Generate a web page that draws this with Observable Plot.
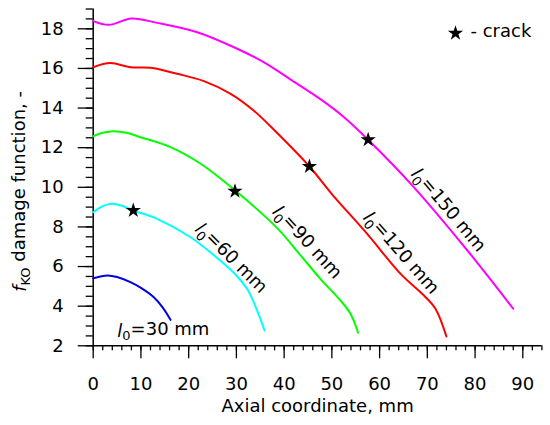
<!DOCTYPE html>
<html>
<head>
<meta charset="utf-8">
<script src="https://cdn.jsdelivr.net/npm/d3@7"></script>
<script src="https://cdn.jsdelivr.net/npm/@observablehq/plot@0.6"></script>
<style>
  html, body { margin: 0; padding: 0; background: #fff; }
</style>
</head>
<body>
<div id="chart"></div>
<script>
// ---- data ----
const x30  = [0, 1.5, 3, 5, 7.8, 10, 12.7, 14.5, 16.2];
const y30  = [5.41, 5.5, 5.55, 5.47, 5.21, 4.92, 4.45, 3.95, 3.31];

const x60  = [0, 2, 4, 6, 8.4, 13.4, 20.4, 27.4, 30, 32.3, 34.4, 35.9];
const y60  = [8.74, 9.05, 9.17, 9.07, 8.83, 8.41, 7.48, 6.14, 5.55, 4.85, 3.75, 2.77];

const x90  = [0, 2, 4.3, 7, 9.9, 16.2, 22.5, 29.7, 38.5, 43.4, 47.6, 51.8, 53.9, 55.5];
const y90  = [12.57, 12.75, 12.83, 12.75, 12.53, 12.03, 11.19, 9.85, 7.95, 6.58, 5.38, 4.29, 3.62, 2.66];

const x120 = [0, 3.6, 7.8, 12, 17.6, 23.2, 28.8, 33.6, 38.5, 45.3, 50, 57.4, 64.4, 69.3, 71.7, 74.0];
const y120 = [16.06, 16.27, 16.06, 16.03, 15.73, 15.36, 14.72, 13.88, 12.75, 11.05, 9.66, 7.65, 5.63, 4.54, 3.87, 2.47];

const x150 = [0, 3.3, 8.0, 13.4, 21.8, 29.5, 35.7, 41.3, 47.6, 52.5, 57.6, 67.2, 78.4, 88.0];
const y150 = [18.39, 18.2, 18.52, 18.3, 17.83, 17.07, 16.32, 15.45, 14.45, 13.55, 12.4, 10.0, 6.81, 3.87];

const seriesNames  = ["30", "60", "90", "120", "150"];
const seriesColors = ["#0000e0", "#00ffff", "#00ff00", "#ff0000", "#ff00ff"];

// crack points (stars)
const crackX = [8.4, 29.7, 45.3, 57.6];
const crackY = [8.83, 9.8, 11.05, 12.4];

// curve labels
const labelText = ["l0=30 mm", "l0=60 mm", "l0=90 mm", "l0=120 mm", "l0=150 mm"];
const labelX    = [14.7, 28.8, 44.7, 64.4, 74.3];
const labelY    = [2.76, 6.4, 7.2, 6.66, 8.83];
const labelRot  = [0, 45, 48, 49, 50];

// ticks
const xMajor = [0, 10, 20, 30, 40, 50, 60, 70, 80, 90];
const xMinor = d3.range(0, 94.01, 2);
const yMajor = [2, 4, 6, 8, 10, 12, 14, 16, 18];
const yMinor = d3.range(2, 19.01, 0.5);

// ---- build tables ----
const xs = [x30, x60, x90, x120, x150];
const ys = [y30, y60, y90, y120, y150];
const lines = seriesNames.flatMap((s, i) => xs[i].map((x, j) => ({s, x, y: ys[i][j]})));
const cracks = crackX.map((x, i) => ({x, y: crackY[i]}));
const labels = labelText.map((t, i) => ({t, x: labelX[i], y: labelY[i], r: labelRot[i]}));

const font = "DejaVu Sans, sans-serif";

const plot = Plot.plot({
  width: 550,
  height: 425,
  marginLeft: 92.7,
  marginRight: 8.6,
  marginTop: 8.5,
  marginBottom: 79.7,
  style: {fontFamily: font, fontSize: "18px", background: "#fff", color: "#000"},
  x: {domain: [0, 94]},
  y: {domain: [2, 19]},
  color: {domain: seriesNames, range: seriesColors},
  marks: [
    Plot.axisY(yMinor, {tickSize: 7, tickFormat: () => "", label: null, strokeWidth: 1.3}),
    Plot.axisY(yMajor, {tickSize: 15, tickPadding: 14.5, label: null, strokeWidth: 1.3, fontSize: 18}),
    Plot.axisX(xMinor, {tickSize: 5, tickFormat: () => "", label: null, strokeWidth: 1.3}),
    Plot.axisX(xMajor, {tickSize: 13, tickPadding: 18, label: null, strokeWidth: 1.3, fontSize: 18}),
    Plot.ruleX([0], {stroke: "#000", strokeWidth: 1.5}),
    Plot.ruleY([2], {stroke: "#000", strokeWidth: 1.5}),
    Plot.line(lines, {x: "x", y: "y", z: "s", stroke: "s", strokeWidth: 2, curve: "catmull-rom"}),
    Plot.dot(cracks, {x: "x", y: "y", symbol: "star", r: 4.8, fill: "#000", stroke: "none"}),
    Plot.text(labels, {x: "x", y: "y", text: "t", rotate: "r",
      textAnchor: "middle", lineAnchor: "middle", fontSize: 18, fill: "#000"}),
    // legend
    Plot.dot([0], {frameAnchor: "top-right", dx: -86.4, dy: 24.2, symbol: "star", r: 4.8, fill: "#000", stroke: "none"}),
    Plot.text(["- crack"], {frameAnchor: "top-right", dx: -71.4, dy: 22.5, textAnchor: "start", lineAnchor: "middle", fontSize: 18, fill: "#000"}),
    // axis titles
    Plot.text(["Axial coordinate, mm"], {frameAnchor: "bottom", dy: 60, textAnchor: "middle", lineAnchor: "middle", fontSize: 18, fill: "#000"}),
    Plot.text(["fKO damage function, -"], {frameAnchor: "left", dx: -72.7, dy: 14, rotate: -90, textAnchor: "middle", lineAnchor: "middle", fontSize: 18, fill: "#000"})
  ]
});

// rich text: italic l with subscript 0, italic f with subscript KO
const svg = d3.select(plot);
svg.selectAll("text").each(function() {
  const el = d3.select(this);
  const txt = this.textContent;
  if (txt.startsWith("l0=")) {
    el.text("");
    el.append("tspan").attr("font-style", "italic").text("l");
    el.append("tspan").attr("font-size", "0.72em").attr("dy", "0.3em").text("0");
    el.append("tspan").attr("dy", "-0.3em").text(txt.slice(2));
  } else if (txt.startsWith("fKO")) {
    el.text("");
    el.append("tspan").attr("font-style", "italic").text("f");
    el.append("tspan").attr("font-size", "0.72em").attr("dy", "0.3em").text("KO");
    el.append("tspan").attr("dy", "-0.3em").text(txt.slice(3));
  }
});

document.getElementById("chart").appendChild(plot);
</script>
</body>
</html>
